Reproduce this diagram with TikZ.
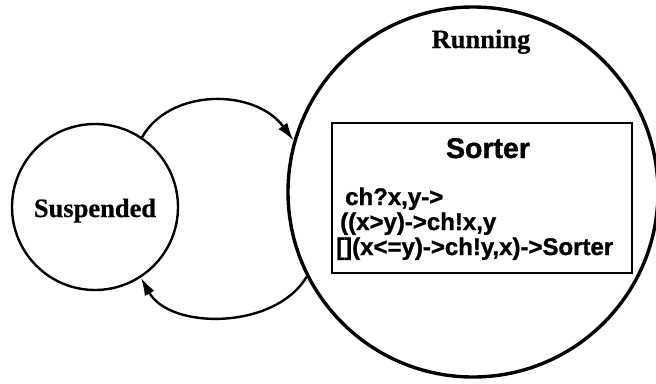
\documentclass[tikz,border=0pt]{standalone}
\usepackage{fontspec}
\setmainfont{Liberation Serif}
\newfontfamily\heavysans[UprightFont={* Bold},FakeBold=1.2]{Liberation Sans}
\newfontfamily\heavyserif[UprightFont={* Bold},FakeBold=0.6]{Liberation Serif}
\usetikzlibrary{arrows.meta}
\begin{document}
\begin{tikzpicture}[x=1pt,y=-1pt,
  statecircle/.style={draw, circle, inner sep=0pt},
  statelabel/.style={anchor=base, inner sep=0pt, font=\heavyserif\fontsize{26.5}{27}\selectfont},
  conn/.style={line width=2.4pt, -{Latex[length=18pt,width=11pt]}},
  codeline/.style={anchor=base west, inner sep=0pt, font=\heavysans\fontsize{24}{25}\selectfont}]
\useasboundingbox (0,0) rectangle (656,383);
\node[statecircle, line width=2.4pt, minimum size=166pt] (susp) at (95,207) {};
\node[statelabel] (susplabel) at (95,217) {Suspended};
\node[statecircle, line width=3.4pt, minimum size=370pt] (run) at (473,192) {};
\node[statelabel] (runlabel) at (481,48) {Running};
\node[draw, line width=2.2pt, minimum width=300pt, minimum height=150pt, inner sep=0pt] (box) at (482,198) {};
\node[anchor=base, inner sep=0pt, font=\heavysans\fontsize{28.5}{30}\selectfont] (sorter) at (488,158) {Sorter};
\node[codeline] (l1) at (345,205) {ch?x,y->};
\node[codeline] (l2) at (340,230) {((x>y)->ch!x,y};
\node[codeline] (l3) at (336,255) {[](x<=y)->ch!y,x)->Sorter};
\draw[conn] (susp.56) .. controls (170,88) and (255,88) .. (run.164);
\draw[conn] (run.207) .. controls (275,330) and (170,330) .. (susp.303);
\end{tikzpicture}
\end{document}
